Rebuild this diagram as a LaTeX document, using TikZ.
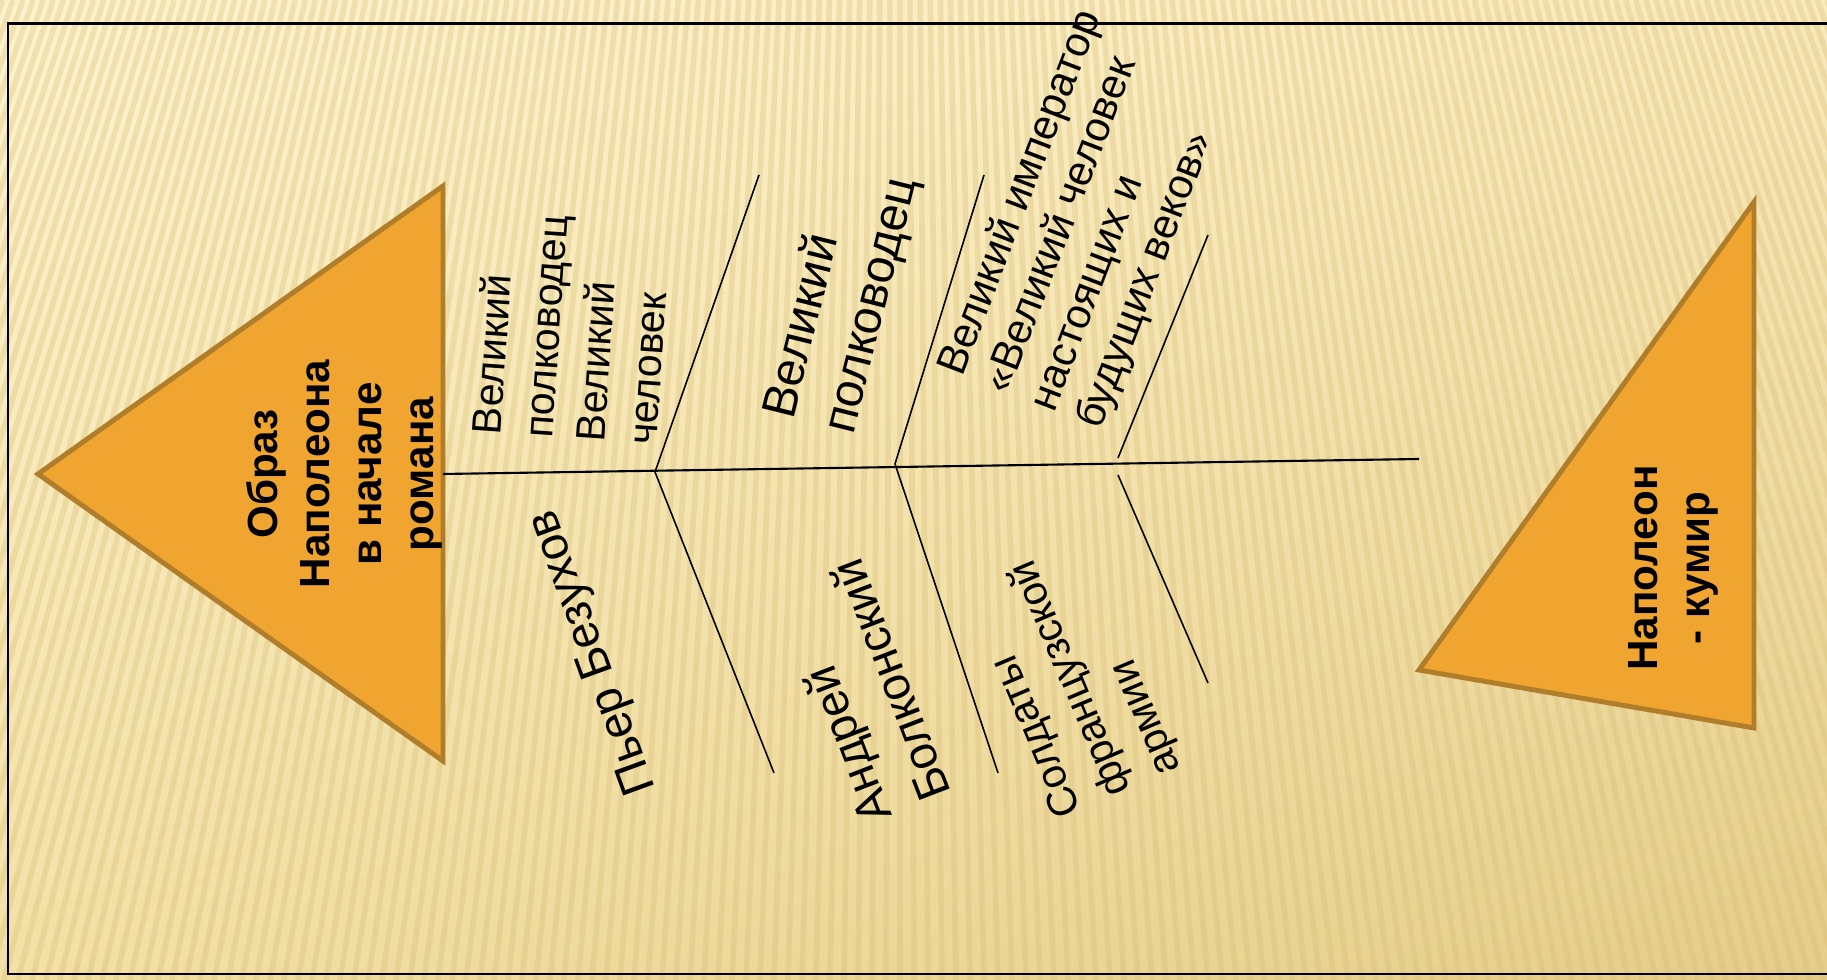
\documentclass[tikz,border=0pt]{standalone}
\usepackage{fontspec}
\setmainfont{Liberation Sans}
\usetikzlibrary{calc,shadings}

\definecolor{bgLight}{RGB}{253,243,206}
\definecolor{bgUpRight}{RGB}{249,234,188}
\definecolor{bgLowLeft}{RGB}{242,224,165}
\definecolor{bgDark}{RGB}{229,205,137}
\definecolor{stripe}{RGB}{214,186,112}
\definecolor{triFill}{RGB}{239,165,48}
\definecolor{triEdge}{RGB}{176,125,42}

\begin{document}
\begin{tikzpicture}[x=0.01cm, y=-0.01cm,
    tri/.style={fill=triFill, draw=triEdge, line width=1.4pt, line join=miter},
    trilabel/.style={font=\fontsize{12}{14.8}\selectfont\bfseries, align=center, rotate=90},
    spine/.style={black, line width=0.6pt},
    bone/.style={black, line width=0.45pt}]
    \useasboundingbox (0,0) rectangle (1827,980);

    % background
    \shade[upper left=bgLight, upper right=bgUpRight, lower left=bgLowLeft, lower right=bgDark]
        (0,0) rectangle (1827,980);
    \begin{scope}
        \clip (0,0) rectangle (1827,980);
        \foreach \d in {-1400,-1386,...,1400}
            \draw[stripe, line width=1.6pt, opacity=0.3] ({900+0.72*\d},0) -- ({900+\d},980);
    \end{scope}
    \draw[black, line width=0.85pt] (1827,24) -- (8,24) -- (8,974) -- (1827,974);

    % head
    \coordinate (headTip) at (38,474);
    \coordinate (headTop) at (443,186);
    \coordinate (headBot) at (443,761);
    \draw[tri] (headTip) -- (headTop) -- (headBot) -- cycle;
    \node[trilabel] (head) at (344,474) {Образ\\Наполеона\\в начале\\романа};

    % tail
    \coordinate (tailTop) at (1754,202);
    \coordinate (tailTip) at (1419,670);
    \coordinate (tailBot) at (1754,728);
    \draw[tri] (tailTop) -- (tailTip) -- (tailBot) -- cycle;
    \node[trilabel] (tail) at (1673,568) {Наполеон\\- кумир};

    % spine and bones
    \coordinate (spineL) at (443,474);
    \coordinate (spineR) at (1419,459);
    \coordinate (j1) at (655,472);
    \coordinate (j2) at (895,464);
    \coordinate (j3u) at (1118,458);
    \coordinate (j3d) at (1118,475);
    \coordinate (b1u) at (759,175);
    \coordinate (b1d) at (774,773);
    \coordinate (b2u) at (984,175);
    \coordinate (b2d) at (998,773);
    \coordinate (b3u) at (1208,235);
    \coordinate (b3d) at (1208,683);
    \draw[spine] (spineL) -- (spineR);
    \draw[bone] (b1u) -- (j1) -- (b1d);
    \draw[bone] (b2u) -- (j2) -- (b2d);
    \draw[bone] (j3u) -- (b3u);
    \draw[bone] (j3d) -- (b3d);

    % upper labels
    \node[rotate=86, align=left, font=\fontsize{11.7}{14.8}\selectfont] (pierreView) at (571,328)
        {Великий\\полководец\\Великий\\человек};
    \node[rotate=76, align=left, font=\fontsize{13.7}{17.6}\selectfont] (andreiView) at (842,298)
        {Великий\\полководец};
    \node[rotate=69, align=left, font=\fontsize{12}{14}\selectfont] (soldiersView) at (1090,220)
        {Великий император\\«Великий человек\\настоящих и\\будущих веков»};

    % lower labels
    \node[rotate=110, font=\fontsize{13.4}{16}\selectfont] (pierre) at (594,652) {Пьер Безухов};
    \node[rotate=111, align=left, font=\fontsize{13.4}{18}\selectfont] (andrei) at (860,692)
        {Андрей\\Болконский};
    \node[rotate=113, align=left, font=\fontsize{11.8}{15.3}\selectfont] (soldiers) at (1072,678)
        {Солдаты\\французской\\армии};
\end{tikzpicture}
\end{document}
